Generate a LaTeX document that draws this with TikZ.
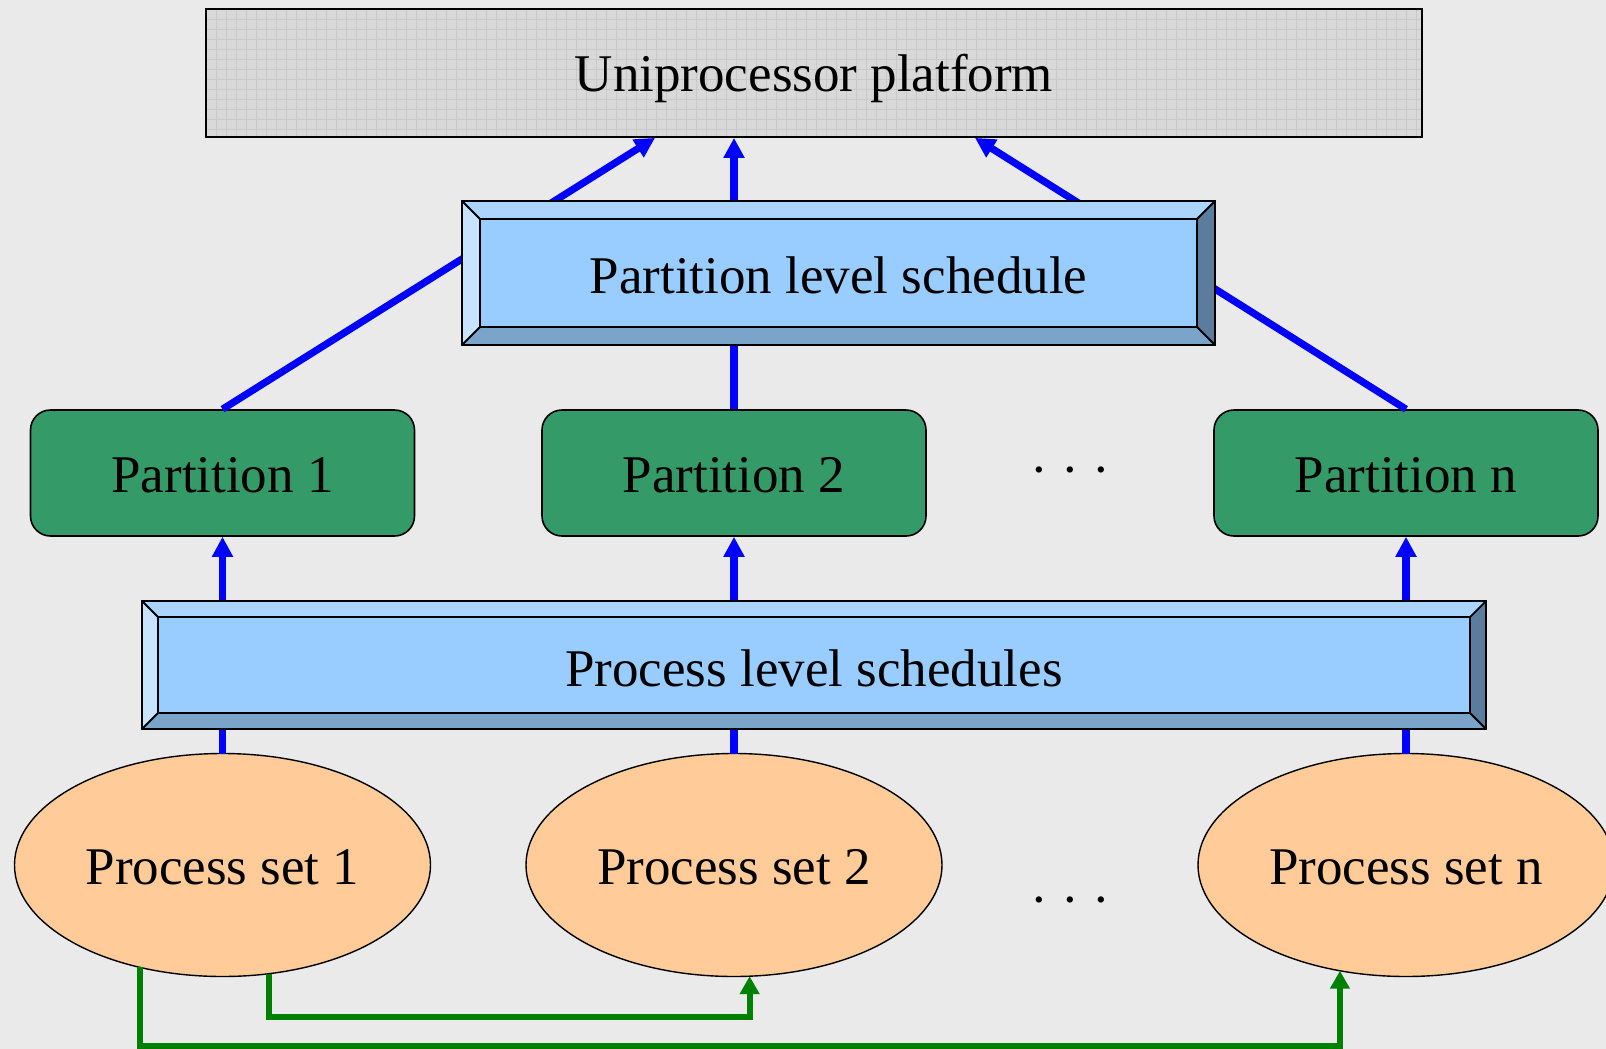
\documentclass[tikz,border=0pt]{standalone}
\usepackage{fontspec}
\setmainfont{Liberation Serif}
\usetikzlibrary{arrows.meta,shapes.geometric,calc}
\definecolor{bg}{HTML}{EAEAEA}
\definecolor{topgray}{HTML}{D9D9D9}
\definecolor{gridgray}{HTML}{C9C9C9}
\definecolor{partgreen}{HTML}{349A68}
\definecolor{procorange}{HTML}{FFCC99}
\definecolor{bvcenter}{HTML}{99CCFF}
\definecolor{bvtop}{HTML}{ABD5FF}
\definecolor{bvleft}{HTML}{C8E3FF}
\definecolor{bvbottom}{HTML}{7BA4CA}
\definecolor{bvright}{HTML}{5B7C9C}
\definecolor{arrblue}{HTML}{0000FF}
\definecolor{arrgreen}{HTML}{008000}
\newcommand\bevelbox[2]{%
  \fill[bvtop] (#1.north west) -- (#1.north east) -- ([shift={(-#2,#2)}]#1.north east) -- ([shift={(#2,#2)}]#1.north west) -- cycle;
  \fill[bvleft] (#1.north west) -- (#1.south west) -- ([shift={(#2,-#2)}]#1.south west) -- ([shift={(#2,#2)}]#1.north west) -- cycle;
  \fill[bvbottom] (#1.south west) -- (#1.south east) -- ([shift={(-#2,-#2)}]#1.south east) -- ([shift={(#2,-#2)}]#1.south west) -- cycle;
  \fill[bvright] (#1.north east) -- (#1.south east) -- ([shift={(-#2,-#2)}]#1.south east) -- ([shift={(-#2,#2)}]#1.north east) -- cycle;
  \draw[line width=0.9pt] (#1.north west) rectangle (#1.south east);
  \draw[line width=0.9pt] ([shift={(#2,#2)}]#1.north west) rectangle ([shift={(-#2,-#2)}]#1.south east);
  \draw[line width=0.9pt] (#1.north west) -- ([shift={(#2,#2)}]#1.north west)
    (#1.north east) -- ([shift={(-#2,#2)}]#1.north east)
    (#1.south west) -- ([shift={(#2,-#2)}]#1.south west)
    (#1.south east) -- ([shift={(-#2,-#2)}]#1.south east);
}
\begin{document}
\begin{tikzpicture}[x=0.5pt,y=-0.5pt,
  txt/.style={font=\fontsize{26.5pt}{30pt}\selectfont},
  topbox/.style={draw, line width=0.9pt, minimum width=608pt, minimum height=64pt, inner sep=0pt},
  partbox/.style={txt, draw, line width=0.8pt, fill=partgreen, rounded corners=10pt, minimum width=192pt, minimum height=63pt, inner sep=0pt, text height=19.5pt, text depth=0pt},
  procell/.style={txt, ellipse, draw, line width=0.7pt, fill=procorange, minimum width=208pt, minimum height=111.5pt, inner sep=0pt, outer sep=0pt, text height=19.5pt, text depth=0pt},
  bevnode/.style={fill=bvcenter, inner sep=0pt, outer sep=0pt},
  bluearr/.style={draw=arrblue, line width=3.6pt, -{Triangle[length=10pt,width=10pt]}},
  greenarr/.style={draw=arrgreen, line width=2.9pt, -{Triangle[length=9pt,width=9.5pt]}},
  dotstxt/.style={txt, inner sep=0pt}
]
\fill[bg] (0,0) rectangle (1606,1049);
\useasboundingbox (0,0) rectangle (1606,1049);

% top box with texture
\fill[topgray] (206,9) rectangle (1422,137);
\begin{scope}
  \clip (206,9) rectangle (1422,137);
  \foreach \gx in {216,226,...,1416} \draw[gridgray, line width=0.35pt] (\gx,9) -- (\gx,137);
  \foreach \gy in {19,29,...,129} \draw[gridgray, line width=0.35pt] (206,\gy) -- (1422,\gy);
\end{scope}
\node[topbox] (top) at (814,73) {};
\node[txt] (toptxt) at ($(top.center)+(0,5)$) {Uniprocessor platform};

% partitions
\node[partbox] (p1) at (222.5,473) {Partition 1};
\node[partbox] (p2) at (734,473) {Partition 2};
\node[partbox] (pn) at (1406,473) {Partition n};
\node[dotstxt] (dotsA) at (1070,477) {· · ·};

% process sets
\node[procell] (e1) at (222.5,865) {Process set 1};
\node[procell] (e2) at (734,865) {Process set 2};
\node[procell] (en) at (1406,865) {Process set n};
\node[dotstxt] (dotsB) at (1070,907) {· · ·};

% blue connectors (behind schedule boxes)
\coordinate (t1) at ($(top.south)+(-159,0)$);
\coordinate (t3) at ($(top.south)+(161,0)$);
\draw[bluearr] (p1.north) -- (t1);
\draw[bluearr] (p2.north) -- (p2.north |- top.south);
\draw[bluearr] (pn.north) -- (t3);
\draw[bluearr] (e1.north) -- (p1.south);
\draw[bluearr] (e2.north) -- (p2.south);
\draw[bluearr] (en.north) -- (pn.south);

% schedule boxes
\node[bevnode, minimum width=376.5pt, minimum height=72pt] (psched) at (838.5,273) {};
\bevelbox{psched}{18}
\node[txt] (pschedtxt) at ($(psched.center)+(0,2)$) {Partition level schedule};
\node[bevnode, minimum width=672pt, minimum height=64pt] (prsched) at (814,665) {};
\bevelbox{prsched}{16}
\node[txt] (prschedtxt) at ($(prsched.center)+(0,3)$) {Process level schedules};

% green connectors
\coordinate (gA) at (0,1046);
\coordinate (gB) at (0,1017);
\draw[greenarr] (e1.231.5) -- (e1.231.5 |- gA) -- (en.238.5 |- gA) -- (en.238.5);
\draw[greenarr] (e1.293.2) -- (e1.293.2 |- gB) -- (e2.278.7 |- gB) -- (e2.278.7);
\end{tikzpicture}
\end{document}
